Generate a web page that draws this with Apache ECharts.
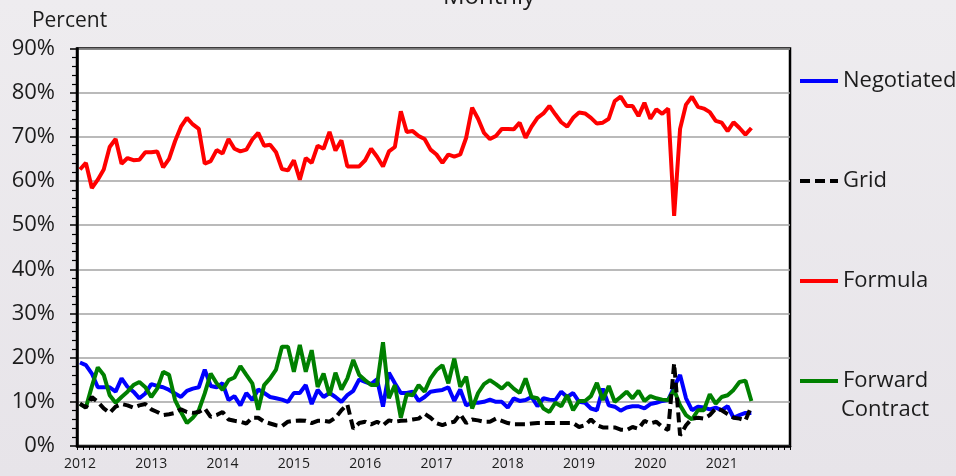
<!DOCTYPE html>
<html>
<head>
<meta charset="utf-8">
<script src="https://cdn.jsdelivr.net/npm/echarts@6/dist/echarts.min.js"></script>
<style>
html,body{margin:0;padding:0;background:#ebe9ed;}
#c{width:956px;height:476px;}
</style>
</head>
<body>
<div id="c"></div>
<script>
const years = ['2012','2013','2014','2015','2016','2017','2018','2019','2020','2021'];
const monthsPerYear = 12;
const months = [];
years.forEach(y => { for (let m = 1; m <= monthsPerYear; m++) months.push(y + '-' + (m < 10 ? '0' + m : m)); });

const negotiated = [18.9,18.3,16.4,13.3,13.3,13.3,12.3,15.3,13.4,12.3,10.8,11.9,14.0,13.6,13.3,12.7,11.9,11.1,12.5,13.0,13.3,17.3,13.6,13.3,14.2,10.4,11.3,9.2,12.0,10.4,
12.8,12.0,11.1,10.8,10.5,10.0,12.0,12.0,13.8,9.5,12.7,11.1,12.0,11.1,10.0,11.5,12.5,15.1,14.5,14.0,15.1,8.9,16.6,14.2,12.0,12.0,12.3,10.2,11.1,12.3,
12.5,12.7,13.3,10.2,12.8,9.2,9.8,9.8,10.0,10.5,10.0,10.0,8.7,10.8,10.2,10.4,11.1,9.0,10.8,10.5,10.4,12.3,11.1,12.0,10.0,9.8,8.5,8.1,13.0,9.2,
8.9,8.0,8.7,9.0,9.0,8.5,9.5,9.8,10.2,10.4,13.4,16.1,10.8,8.1,8.9,8.7,8.3,8.7,8.1,9.0,6.4,7.0,7.5,7.5];

const gridPrice = [9.6,8.7,11.1,10.0,8.5,7.5,8.9,9.5,9.2,8.7,9.2,9.5,8.3,7.7,7.0,7.2,7.5,8.3,7.7,7.5,7.7,8.5,6.6,7.0,7.7,6.0,5.7,5.5,5.1,6.4,
6.4,5.5,5.1,4.7,4.5,5.5,5.7,5.8,5.7,5.2,5.7,5.7,5.5,6.4,8.1,9.4,3.9,5.2,5.5,4.9,5.5,4.7,5.8,5.5,5.7,5.8,6.0,6.2,7.3,6.4,
5.2,4.7,5.2,5.5,7.2,5.2,6.0,5.8,5.5,5.5,6.2,5.7,5.2,4.9,4.9,4.9,5.1,5.2,5.2,5.2,5.2,5.2,5.2,5.2,4.3,4.7,6.0,4.7,4.2,4.2,
4.2,3.7,3.6,4.3,3.9,5.7,5.1,5.5,4.3,3.6,18.7,2.4,4.7,6.2,6.4,6.2,7.0,8.5,8.1,7.2,6.4,6.2,5.8,9.0];

const formula = [62.6,64.1,58.4,60.3,62.6,67.7,69.5,63.9,65.2,64.7,64.8,66.5,66.5,66.7,63.1,65.0,69.0,72.3,74.3,72.8,71.8,63.9,64.5,67.0,66.2,69.5,67.3,66.7,67.1,69.4,
70.9,68.0,68.2,66.5,62.7,62.4,64.7,60.3,65.2,64.1,68.0,67.3,71.1,66.9,69.2,63.3,63.3,63.3,64.7,67.3,65.5,63.3,66.7,67.7,75.8,71.1,71.3,70.2,69.5,67.1,
66.0,64.1,66.0,65.5,66.0,69.8,76.6,74.1,70.9,69.5,70.2,71.8,71.8,71.7,73.2,69.8,72.3,74.3,75.3,77.0,75.1,73.3,72.3,74.3,75.5,75.3,74.3,73.0,73.2,74.1,
78.1,79.1,77.0,77.0,74.7,77.7,74.1,76.2,75.2,76.4,52.1,71.8,77.3,79.1,76.8,76.4,75.6,73.6,73.2,71.3,73.3,72.0,70.5,72.0];

const forward = [9.5,8.7,13.5,17.8,16.1,11.5,9.8,11.1,12.3,13.8,14.5,13.3,11.1,13.0,16.8,16.1,10.4,7.7,5.2,6.4,8.1,11.9,16.4,14.2,12.7,14.9,15.5,18.1,16.1,14.2,
8.2,13.8,15.3,17.3,22.5,22.5,16.8,22.9,16.8,21.7,13.4,16.4,11.5,16.6,12.8,15.3,19.5,16.1,14.9,13.8,13.8,23.5,10.8,13.8,6.4,11.7,11.5,13.8,12.3,15.3,
17.2,18.3,14.2,19.8,13.4,15.7,8.5,12.0,14.0,14.9,14.0,13.0,14.3,13.0,12.0,15.3,11.1,10.8,8.5,7.7,9.8,9.0,11.5,8.1,10.2,10.2,11.3,14.3,10.4,13.6,
10.0,11.1,12.3,10.8,12.5,10.2,11.3,10.8,10.5,10.4,12.7,9.2,7.0,6.0,8.1,8.1,11.7,9.6,11.1,11.5,12.7,14.5,14.8,10.2];

const yTicks = [0,10,20,30,40,50,60,70,80,90];

const FONT = '"Open Sans", "Liberation Sans", sans-serif';
const TXT = '#1c1c1c';

const chart = echarts.init(document.getElementById('c'), null, {renderer: 'canvas'});
chart.setOption({
  backgroundColor: new echarts.graphic.LinearGradient(0, 0, 0, 1, [
    {offset: 0, color: '#eeecef'}, {offset: 1, color: '#e7e4e9'}
  ]),
  animation: false,
  title: {
    text: 'Monthly', left: 443, top: -15, padding: 0,
    textStyle: {fontFamily: FONT, fontSize: 24, fontWeight: 'normal', color: TXT}
  },
  legend: {
    orient: 'vertical', left: 798, top: 70, padding: 0,
    itemWidth: 38, itemHeight: 22, itemGap: 78,
    data: ['Negotiated', 'Grid', 'Formula', 'Forward Contract'],
    formatter: n => n === 'Forward Contract' ? 'Forward' : n,
    itemStyle: {opacity: 0},
    lineStyle: {width: 4},
    textStyle: {fontFamily: FONT, fontSize: 22, lineHeight: 22, color: TXT},
    selectedMode: false
  },
  graphic: [{
    type: 'text', left: 841, top: 399,
    style: {text: 'Contract', font: '22px ' + FONT, fill: TXT}
  }],
  grid: {
    left: 77, right: 166, top: 48.5, bottom: 30,
    show: true, backgroundColor: '#ffffff', borderColor: '#000', borderWidth: 2.5
  },
  xAxis: {
    type: 'category', data: months, boundaryGap: true,
    axisLine: {lineStyle: {color: '#000', width: 2.5}},
    axisTick: {show: true, interval: 0, length: 4, inside: false, lineStyle: {color: '#000', width: 1}},
    axisLabel: {
      interval: i => i % monthsPerYear === 0,
      formatter: (v, i) => years[Math.floor(i / monthsPerYear)],
      fontFamily: FONT, fontSize: 14, color: TXT, margin: 11
    },
    splitLine: {show: false}
  },
  yAxis: {
    type: 'value', min: yTicks[0], max: yTicks[yTicks.length - 1], interval: 10,
    name: 'Percent', nameLocation: 'end', nameGap: 17,
    nameTextStyle: {fontFamily: FONT, fontSize: 21, color: TXT, align: 'center', padding: [0, 15, 0, 0]},
    axisLine: {show: true, lineStyle: {color: '#000', width: 2.5}},
    axisTick: {show: true, length: 7, lineStyle: {color: '#000', width: 1.5}},
    minorTick: {show: true, splitNumber: 5, length: 5, lineStyle: {color: '#000', width: 1.2}},
    axisLabel: {formatter: '{value}%', fontFamily: FONT, fontSize: 22, color: TXT, margin: 22},
    splitLine: {show: true, lineStyle: {color: '#a3a3a3', width: 1.5}}
  },
  series: [
    {name: 'Negotiated', type: 'line', data: negotiated, symbol: 'none',
     lineStyle: {color: '#0000ff', width: 4}, itemStyle: {color: '#0000ff'}},
    {name: 'Forward Contract', type: 'line', data: forward, symbol: 'none',
     lineStyle: {color: '#008000', width: 4}, itemStyle: {color: '#008000'}},
    {name: 'Grid', type: 'line', data: gridPrice, symbol: 'none',
     lineStyle: {color: '#000000', width: 4, type: [10, 5]}, itemStyle: {color: '#000000'}},
    {name: 'Formula', type: 'line', data: formula, symbol: 'none',
     lineStyle: {color: '#ff0000', width: 4}, itemStyle: {color: '#ff0000'}}
  ]
});
</script>
</body>
</html>
